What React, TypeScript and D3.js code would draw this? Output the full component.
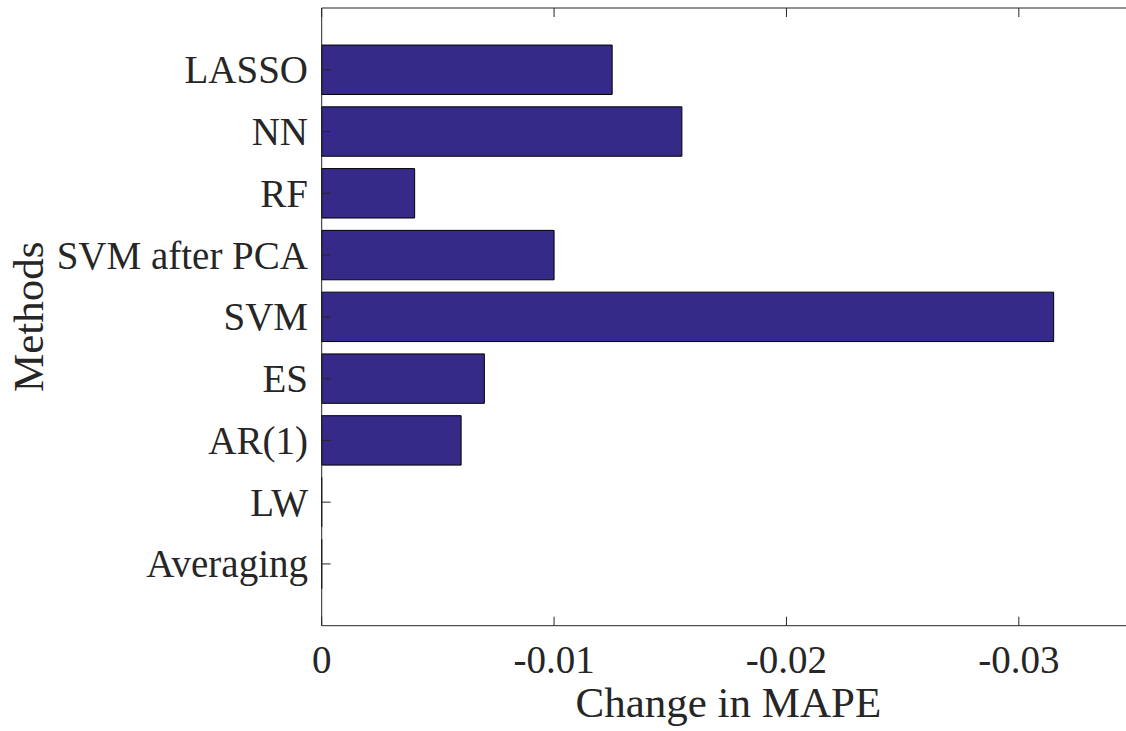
import React from "react";
import * as d3 from "d3";

const methods = ["Averaging", "LW", "AR(1)", "ES", "SVM", "SVM after PCA", "RF", "NN", "LASSO"];
const mapeChange = [0, 0, -0.006, -0.007, -0.0315, -0.01, -0.004, -0.0155, -0.0125];
const xTicks = [0, -0.01, -0.02, -0.03];
const xTickLabels = ["0", "-0.01", "-0.02", "-0.03"];

const W = 1126;
const H = 731;
const FONT = "'Liberation Serif', 'Times New Roman', serif";
const AX = "#262626";
const BAR = "#352A87";

export default function App() {
  const x = d3.scaleLinear().domain([0, -0.035]).range([321.7, 1135]);
  const y = d3.scaleLinear().domain([0, methods.length + 1]).range([625.7, 8]);
  const barH = y(0) - y(0.8);
  const x0 = x(0);
  const yTop = y(methods.length + 1);
  const yBot = y(0);
  const tickLen = 9;

  const barPath = (v: number, i: number) => {
    const p = d3.path();
    const yc = y(i + 1);
    p.moveTo(x0, yc - barH / 2);
    p.lineTo(x(v), yc - barH / 2);
    p.lineTo(x(v), yc + barH / 2);
    p.lineTo(x0, yc + barH / 2);
    p.closePath();
    return p.toString();
  };

  return (
    <svg
      width={W}
      height={H}
      style={{ position: "fixed", left: 0, top: 0, background: "#fff" }}
    >
      <rect x={0} y={0} width={W} height={H} fill="#fff" />
      {mapeChange.map((v, i) => (
        <path key={methods[i]} d={barPath(v, i)} fill={BAR} stroke="#000" strokeWidth={1} />
      ))}
      <line x1={x0} x2={x(-0.035)} y1={yBot} y2={yBot} stroke={AX} strokeWidth={1} />
      <line x1={x0} x2={x(-0.035)} y1={yTop} y2={yTop} stroke={AX} strokeWidth={1} />
      <line x1={x0} x2={x0} y1={yTop} y2={yBot} stroke={AX} strokeWidth={1} />
      {xTicks.map((t, i) => (
        <g key={t}>
          <line x1={x(t)} x2={x(t)} y1={yBot} y2={yBot - tickLen} stroke={AX} strokeWidth={1} />
          <line x1={x(t)} x2={x(t)} y1={yTop} y2={yTop + tickLen} stroke={AX} strokeWidth={1} />
          <text x={x(t)} y={672.7} textAnchor="middle" fontFamily={FONT} fontSize={39} fill={AX}>
            {xTickLabels[i]}
          </text>
        </g>
      ))}
      {methods.map((m, i) => (
        <g key={m}>
          <line x1={x0} x2={x0 + tickLen} y1={y(i + 1)} y2={y(i + 1)} stroke={AX} strokeWidth={1} />
          <text x={308} y={y(i + 1) + 13.5} textAnchor="end" fontFamily={FONT} fontSize={39} fill={AX}>
            {m}
          </text>
        </g>
      ))}
      <text
        x={(x(0) + x(-0.035)) / 2}
        y={716.7}
        textAnchor="middle"
        fontFamily={FONT}
        fontSize={43}
        fill={AX}
      >
        Change in MAPE
      </text>
      <text
        transform={`translate(43, ${(yTop + yBot) / 2}) rotate(-90)`}
        textAnchor="middle"
        fontFamily={FONT}
        fontSize={43}
        fill={AX}
      >
        Methods
      </text>
    </svg>
  );
}
